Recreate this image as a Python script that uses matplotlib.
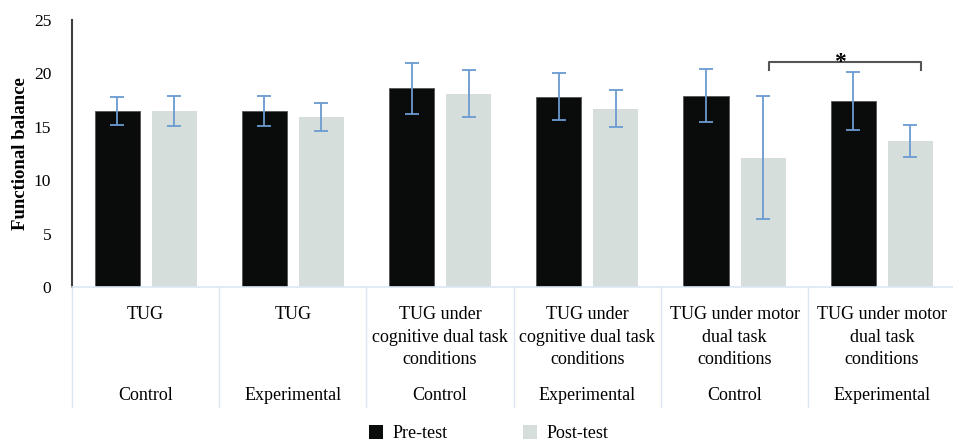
import numpy as np
import matplotlib
matplotlib.use("Agg")
import matplotlib.pyplot as plt
from matplotlib.patches import Patch

# data
tests = ["TUG", "TUG",
         "TUG under\ncognitive dual task\nconditions",
         "TUG under\ncognitive dual task\nconditions",
         "TUG under motor\ndual task\nconditions",
         "TUG under motor\ndual task\nconditions"]
groups = ["Control", "Experimental", "Control", "Experimental", "Control", "Experimental"]

pre_mean = [16.5, 16.5, 18.6, 17.8, 17.9, 17.4]
pre_sd = [1.3, 1.4, 2.4, 2.2, 2.5, 2.7]
post_mean = [16.5, 15.9, 18.1, 16.7, 12.1, 13.7]
post_sd = [1.4, 1.3, 2.2, 1.75, 5.75, 1.5]

# significance bracket between the two motor dual task post-test bars
sig_pair = (4, 5)

BLACK = "#0a0c0b"
GRAY = "#d5dedb"
ERR = "#6a9bd1"
DIV = "#dbe8f4"

plt.rcParams["font.family"] = ["Liberation Serif", "DejaVu Serif"]

fig = plt.figure(figsize=(9.54, 4.46), dpi=100)
ax = fig.add_axes([0.0755, 0.3565, 0.926, 0.599])

x = np.arange(len(tests))
w = 0.306
off = 0.194

ax.bar(x - off, pre_mean, w, color=BLACK, edgecolor="#555555", linewidth=0.6, zorder=2)
ax.bar(x + off, post_mean, w, color=GRAY, zorder=2)
ax.errorbar(x - off, pre_mean, yerr=pre_sd, fmt="none", ecolor=ERR,
            elinewidth=1.3, capsize=5, capthick=1.3, zorder=3)
ax.errorbar(x + off, post_mean, yerr=post_sd, fmt="none", ecolor=ERR,
            elinewidth=1.3, capsize=5, capthick=1.3, zorder=3)

ax.set_xlim(-0.5, len(tests) - 0.5)
ax.set_ylim(0, 25)
ax.set_yticks([0, 5, 10, 15, 20, 25])
ax.tick_params(axis="y", length=0, labelsize=12.5, pad=15)
ax.set_xticks([])

for s in ["top", "right"]:
    ax.spines[s].set_visible(False)
ax.spines["left"].set_color("#404040")
ax.spines["left"].set_linewidth(1.5)
ax.spines["bottom"].set_color(DIV)
ax.spines["bottom"].set_linewidth(1.2)

ax.set_ylabel("Functional balance", fontsize=13.5, fontweight="bold")
ax.yaxis.set_label_coords(-0.049, 0.5)

# multi-level category axis
trans = ax.get_xaxis_transform()
for b in np.arange(len(tests) + 1) - 0.5:
    if b > len(tests) - 1:
        continue
    ax.plot([b, b], [0, -0.45], color=DIV, lw=1.0, transform=trans, clip_on=False)

for i in range(len(tests)):
    ax.text(i, -0.07, tests[i], transform=trans, ha="center", va="top",
            fontsize=13, linespacing=1.45)
    ax.text(i, -0.375, groups[i], transform=trans, ha="center", va="top", fontsize=13)

# significance bracket
xa = sig_pair[0] + off + 0.04
xb = sig_pair[1] + off + 0.07
ax.plot([xa, xa, xb, xb], [20.3, 21.1, 21.1, 20.3], color="#555555", lw=1.5, clip_on=False)
ax.text((xa + xb) / 2 - 0.03, 21.0, "*", ha="center", va="center", fontsize=17, fontweight="bold")

handles = [Patch(facecolor=BLACK), Patch(facecolor=GRAY)]
fig.legend(handles, ["Pre-test", "Post-test"], loc="center", bbox_to_anchor=(0.512, 0.028),
           ncol=2, frameon=False, fontsize=13, handlelength=0.8, handleheight=0.8,
           columnspacing=4.2, handletextpad=0.5)

fig.savefig("out.png", dpi=100)
